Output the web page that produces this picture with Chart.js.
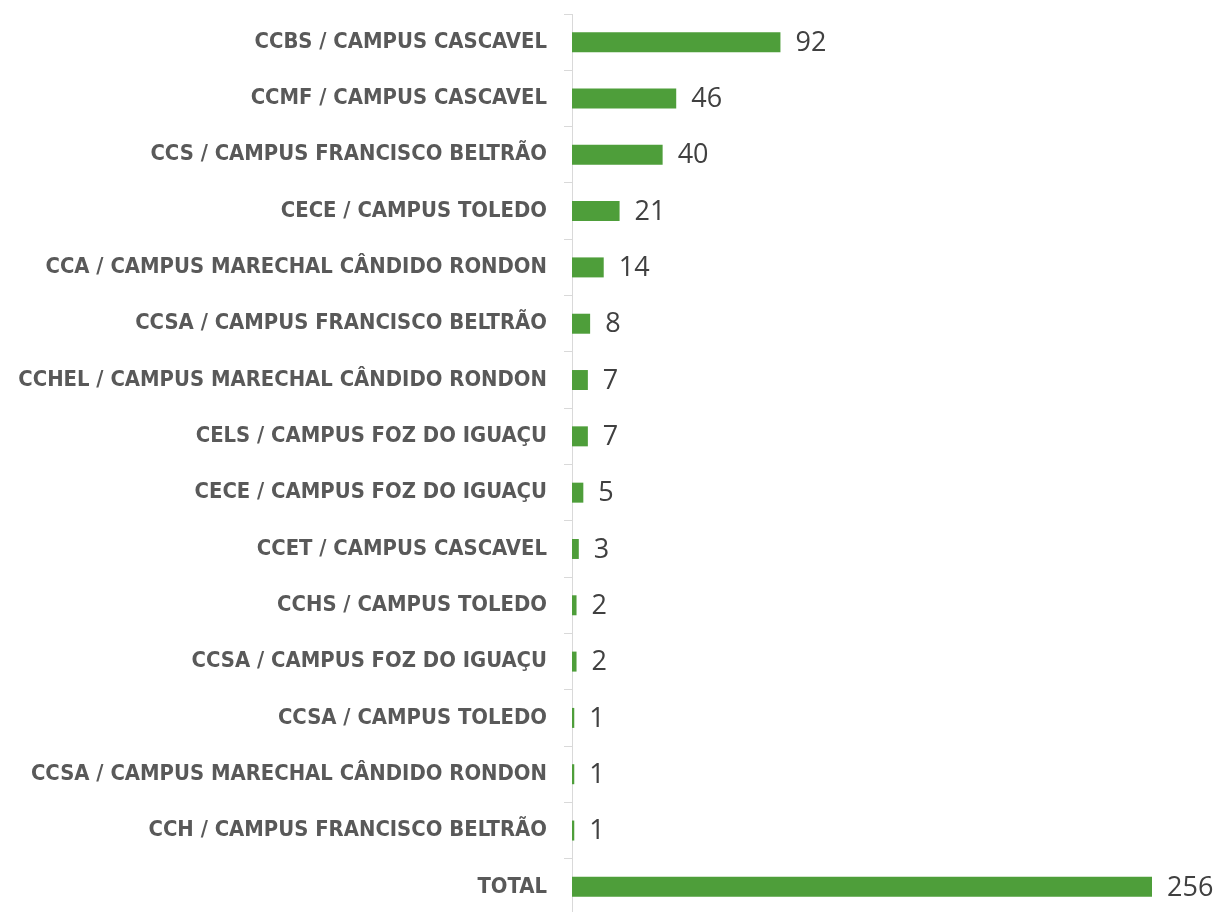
<!DOCTYPE html>
<html>
<head>
<meta charset="utf-8">
<script src="https://cdn.jsdelivr.net/npm/chart.js@4.4.0/dist/chart.umd.min.js"></script>
<style>
html,body{margin:0;padding:0;background:#fff;overflow:hidden;}
#wrap{width:1221px;height:915px;}
</style>
</head>
<body>
<div id="wrap"><canvas id="c" width="1221" height="915"></canvas></div>
<script>
const categories = [
  "CCBS / CAMPUS CASCAVEL",
  "CCMF / CAMPUS CASCAVEL",
  "CCS / CAMPUS FRANCISCO BELTRÃO",
  "CECE / CAMPUS TOLEDO",
  "CCA / CAMPUS MARECHAL CÂNDIDO RONDON",
  "CCSA / CAMPUS FRANCISCO BELTRÃO",
  "CCHEL / CAMPUS MARECHAL CÂNDIDO RONDON",
  "CELS / CAMPUS FOZ DO IGUAÇU",
  "CECE / CAMPUS FOZ DO IGUAÇU",
  "CCET / CAMPUS CASCAVEL",
  "CCHS / CAMPUS TOLEDO",
  "CCSA / CAMPUS FOZ DO IGUAÇU",
  "CCSA / CAMPUS TOLEDO",
  "CCSA / CAMPUS MARECHAL CÂNDIDO RONDON",
  "CCH / CAMPUS FRANCISCO BELTRÃO",
  "TOTAL"
];
const values = [92, 46, 40, 21, 14, 8, 7, 7, 5, 3, 2, 2, 1, 1, 1, 256];
const xMax = 256;

// pick a condensed bold font that exists, sized so the longest label is ~529px wide
const mctx = document.createElement('canvas').getContext('2d');
function w(font, txt) { mctx.font = font; return mctx.measureText(txt).width; }
const probe = 'CCHEL / CAMPUS MARECHAL CÂNDIDO RONDON';
const candidates = ['Liberation Sans Narrow', 'Arial Narrow', 'DejaVu Sans Condensed', 'Liberation Sans'];
let labelFamily = 'sans-serif';
for (const f of candidates) {
  const a = w('bold 26px "' + f + '", monospace', probe);
  const b = w('bold 26px monospace', probe);
  if (Math.abs(a - b) > 0.5) { labelFamily = '"' + f + '"'; break; }
}
const labelSize = Math.min(26, 26 * 529 / w('bold 26px ' + labelFamily, probe));

const valueLabels = {
  id: 'valueLabels',
  afterDatasetsDraw(chart) {
    const ctx = chart.ctx;
    const meta = chart.getDatasetMeta(0);
    const xs = chart.scales.x;
    ctx.save();
    ctx.font = '27px "Open Sans", sans-serif';
    ctx.fillStyle = '#404040';
    ctx.textAlign = 'left';
    ctx.textBaseline = 'middle';
    meta.data.forEach((bar, i) => {
      const v = chart.data.datasets[0].data[i];
      ctx.fillText(String(v), xs.getPixelForValue(v) + 15, bar.y + 1);
    });
    ctx.restore();
  }
};

new Chart(document.getElementById('c'), {
  type: 'bar',
  data: {
    labels: categories,
    datasets: [{
      data: values,
      backgroundColor: '#4e9e3a',
      borderWidth: 0,
      barPercentage: 0.355,
      categoryPercentage: 1
    }]
  },
  options: {
    indexAxis: 'y',
    responsive: false,
    animation: false,
    layout: { padding: { top: 14, right: 69, bottom: 0, left: 0 } },
    plugins: { legend: { display: false }, tooltip: { enabled: false } },
    scales: {
      x: { display: false, min: 0, max: xMax },
      y: {
        afterFit(scale) { scale.width = 572; scale.paddingTop = 0; scale.paddingBottom = 0; },
        border: { display: true, color: '#d9d9d9', width: 1 },
        grid: { display: true, drawOnChartArea: false, drawTicks: true, tickLength: 8, color: '#d9d9d9', offset: true },
        ticks: {
          color: '#595959',
          padding: 17,
          font: { family: labelFamily, size: labelSize, weight: 'bold' }
        }
      }
    }
  },
  plugins: [valueLabels]
});
</script>
</body>
</html>
